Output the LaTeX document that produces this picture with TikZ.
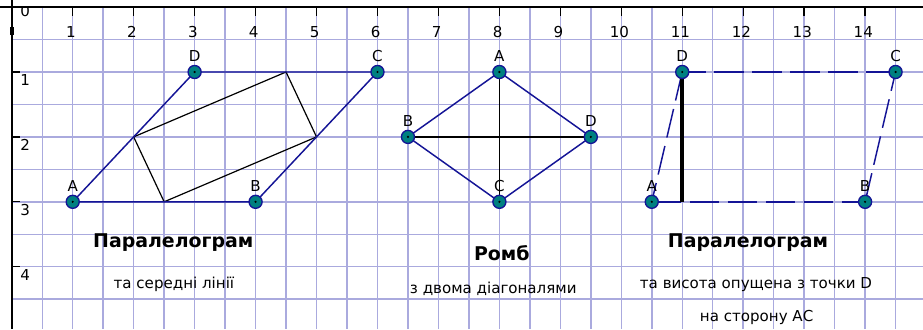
\documentclass[tikz,border=0pt]{standalone}
\usepackage{fontspec}
\setmainfont{DejaVu Sans}
\usetikzlibrary{calc}
\definecolor{gridc}{RGB}{170,170,222}
\definecolor{navyc}{RGB}{20,20,150}
\definecolor{tealc}{RGB}{0,128,128}
\tikzset{
  gridline/.style={draw=gridc, line width=1.1pt},
  side/.style={draw=navyc, line width=1.1pt},
  dside/.style={draw=navyc, line width=1.1pt, dash pattern=on 22pt off 6.5pt},
  mid/.style={draw=black, line width=0.9pt},
  pt/.style={circle, fill=tealc, draw=navyc, line width=1pt, minimum size=9.8pt, inner sep=0pt},
  ptlabel/.style={font=\fontsize{11.3}{13}\selectfont, inner sep=0pt},
  axlabel/.style={font=\fontsize{11.3}{13}\selectfont, inner sep=0pt},
  title/.style={font=\fontsize{14.2}{17}\selectfont\bfseries, inner sep=0pt},
  sub/.style={font=\fontsize{11.3}{13}\selectfont, inner sep=0pt}
}
\newcommand{\gpoint}[3]{%
  \node[pt] (#1) at #2 {};
  \fill[black] (#1.center) circle (0.9pt);
  \node[ptlabel] (#1l) at ($(#1)+(0,-0.25)$) {#3};
}
\begin{document}
\begin{tikzpicture}[x=45.71pt, y=-48.68pt]
\useasboundingbox (-0.193,-0.109) rectangle (14.95,4.96);
\fill[white] (-0.193,-0.109) rectangle (14.95,4.96);
% grid
\begin{scope}
\clip (0,0) rectangle (14.95,4.96);
\foreach \i in {0.5,1,...,14.5} \draw[gridline] (\i,0) -- (\i,4.96);
\foreach \j in {0.5,1,...,4.5} \draw[gridline] (0,\j) -- (14.95,\j);
\end{scope}
% axes
\draw[black, line width=1.6pt] (-0.193,0) -- (14.95,0);
\draw[black, line width=1.4pt] (0,-0.109) -- (0,4.96);
\draw[black, line width=3pt] (0,0.31) -- (0,0.43);
\foreach \i in {1,...,14} {
  \draw[black, line width=1pt] (\i,0) -- (\i,0.14);
  \node[axlabel] (xl\i) at (\i-0.03,0.38) {\i};
}
\foreach \j in {1,...,4} {
  \draw[black, line width=1pt] (0,\j) -- (0.13,\j);
  \node[axlabel] (yl\j) at (0.22,\j+0.13) {\j};
}
\begin{scope}
\clip (0,0.02) rectangle (1,1);
\node[axlabel] (xl0) at (0.22,0.06) {0};
\end{scope}
% figure 1
\coordinate (m1) at (2,2);
\coordinate (m2) at (4.5,1);
\coordinate (m3) at (5,2);
\coordinate (m4) at (2.5,3);
\draw[mid] (m1) -- (m2) -- (m3) -- (m4) -- cycle;
\draw[side] (1,3) -- (4,3) -- (6,1) -- (3,1) -- cycle;
\gpoint{A1}{(1,3)}{A}
\gpoint{B1}{(4,3)}{B}
\gpoint{C1}{(6,1)}{C}
\gpoint{D1}{(3,1)}{D}
\node[title] (t1) at (2.65,3.63) {Паралелограм};
\node[sub] (s1) at (2.66,4.27) {та середні лінії};
% figure 2
\draw[mid] (8,1) -- (8,3);
\draw[mid] (6.5,2) -- (9.5,2);
\draw[side] (8,1) -- (6.5,2) -- (8,3) -- (9.5,2) -- cycle;
\gpoint{A2}{(8,1)}{A}
\gpoint{B2}{(6.5,2)}{B}
\gpoint{C2}{(8,3)}{C}
\gpoint{D2}{(9.5,2)}{D}
\node[title] (t2) at (8.04,3.79) {Ромб};
\node[sub] (s2) at (7.9,4.34) {з двома діагоналями};
% figure 3
\draw[dside] (10.5,3) -- (14,3);
\draw[dside] (14,3) -- (14.5,1);
\draw[dside] (14.5,1) -- (11,1);
\draw[dside] (11,1) -- (10.5,3);
\coordinate (H) at (11,3);
\draw[black, line width=3pt] (11,1) -- (H);
\gpoint{A3}{(10.5,3)}{A}
\gpoint{B3}{(14,3)}{B}
\gpoint{C3}{(14.5,1)}{C}
\gpoint{D3}{(11,1)}{D}
\node[title] (t3) at (12.08,3.63) {Паралелограм};
\node[sub] (s3) at (12.21,4.27) {та висота опущена з точки D};
\node[sub] (s4) at (12.22,4.78) {на сторону АС};
\end{tikzpicture}
\end{document}
